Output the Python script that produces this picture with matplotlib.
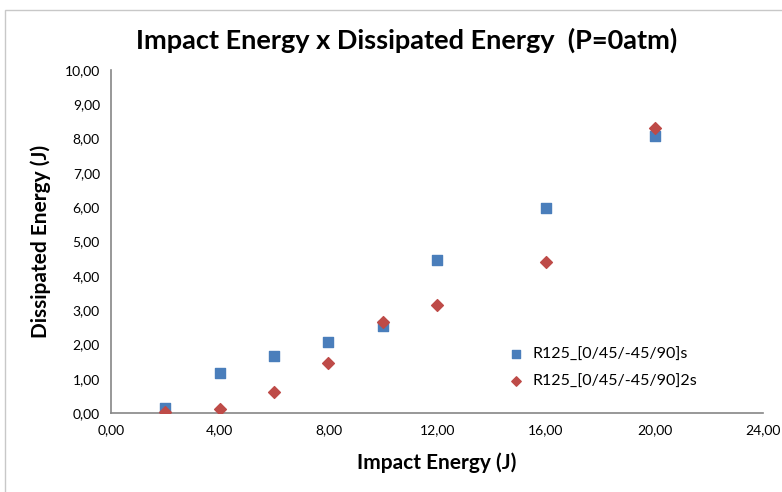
import matplotlib.pyplot as plt
from matplotlib.patches import Rectangle
from matplotlib.ticker import FuncFormatter

plt.rcParams['font.family'] = ['Lato', 'DejaVu Sans']

# impact energy (J)
impact = [2, 4, 6, 8, 10, 12, 16, 20]
# dissipated energy (J) for each layup
diss_s = [0.14, 1.17, 1.65, 2.07, 2.54, 4.45, 5.98, 8.07]
diss_2s = [0.02, 0.12, 0.61, 1.47, 2.66, 3.15, 4.39, 8.30]
labels = ['R125_[0/45/-45/90]s', 'R125_[0/45/-45/90]2s']

fig = plt.figure(figsize=(7.82, 4.92), dpi=100)
ax = fig.add_axes([0.142, 0.1606, 0.834, 0.6974])

ax.scatter(impact, diss_s, marker='s', s=50, color='#4a7ebb', label=labels[0], zorder=3)
ax.scatter(impact, diss_2s, marker='D', s=36, color='#be4b48', label=labels[1], zorder=3)

ax.set_xlim(0, 24)
ax.set_ylim(0, 10)
ax.set_xticks(range(0, 25, 4))
ax.set_yticks(range(0, 11))
comma = FuncFormatter(lambda v, p: f'{v:.2f}'.replace('.', ','))
ax.xaxis.set_major_formatter(comma)
ax.yaxis.set_major_formatter(comma)
ax.tick_params(length=0, labelsize=10, pad=8)

for s in ['top', 'right']:
    ax.spines[s].set_visible(False)
for s in ['left', 'bottom']:
    ax.spines[s].set_color('#868686')
    ax.spines[s].set_linewidth(1.2)

ax.set_xlabel('Impact Energy (J)', fontsize=15, fontweight='bold', labelpad=12)
ax.set_ylabel('Dissipated Energy (J)', fontsize=15, fontweight='bold', labelpad=10)
fig.text(0.52, 0.918, 'Impact Energy x Dissipated Energy  (P=0atm)', ha='center', va='center',
         fontsize=19.5, fontweight='bold')

ax.legend(loc='upper left', bbox_to_anchor=(0.587, 0.21), frameon=False, fontsize=11.5,
          handletextpad=0.0, borderaxespad=0, labelspacing=0.8, markerscale=0.8)

fig.patches.append(Rectangle((0.006, -0.01), 1.1, 0.99, transform=fig.transFigure,
                             fill=False, edgecolor='#c8c8c8', linewidth=1))

fig.savefig('out.png', dpi=100)
